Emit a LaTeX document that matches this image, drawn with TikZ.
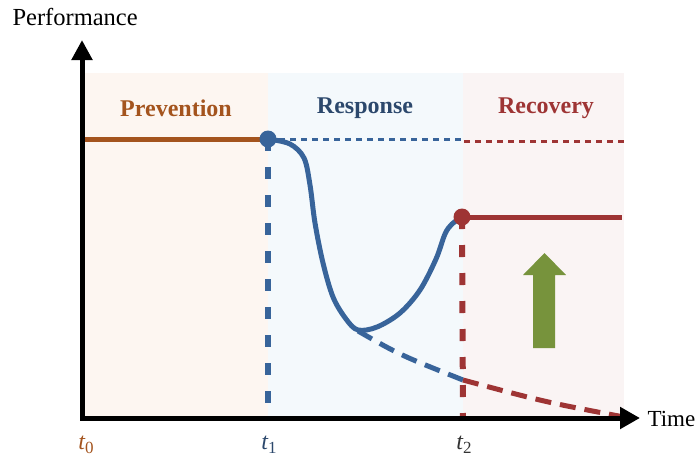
\documentclass[tikz,border=0pt]{standalone}
\usepackage{fontspec}
\setmainfont{Liberation Serif}
\usetikzlibrary{arrows.meta}
\definecolor{prevc}{RGB}{164,84,30}
\definecolor{respc}{RGB}{56,100,154}
\definecolor{resptext}{RGB}{44,72,108}
\definecolor{recc}{RGB}{158,52,52}
\definecolor{greenc}{RGB}{119,147,60}
\definecolor{prevbg}{RGB}{253,246,241}
\definecolor{respbg}{RGB}{244,249,252}
\definecolor{recbg}{RGB}{250,244,244}
\tikzset{
  phase/.style={font=\fontsize{24}{28}\selectfont\bfseries},
  tick/.style={font=\fontsize{24}{28}\selectfont},
  axislabel/.style={font=\fontsize{23}{27}\selectfont},
  vdash/.style={line width=6pt, dash pattern=on 12pt off 16pt},
  dotline/.style={line width=3pt, dash pattern=on 6pt off 5pt},
  declinedash/.style={line width=5pt, dash pattern=on 16pt off 9pt},
  curve/.style={line width=5pt, line cap=round, line join=round},
}
\newcommand{\tlabel}[2]{{\itshape t}\raisebox{-0.35ex}{\fontsize{17}{18}\selectfont #2}}
\begin{document}
\begin{tikzpicture}[x=1pt,y=-1pt]
\useasboundingbox (0,0) rectangle (699,459);
% backgrounds
\fill[prevbg] (82,73) rectangle (268,418);
\fill[respbg] (268,73) rectangle (463,418);
\fill[recbg] (463,73) rectangle (624,418);
% phase labels
\node[phase, text=prevc] (lprev) at (176,108) {Prevention};
\node[phase, text=resptext] (lresp) at (365,108) {Response};
\node[phase, text=recc] (lrec) at (546,108) {Recovery};
% key points
\coordinate (p0) at (82,139);
\coordinate (p1) at (268,139);
\coordinate (p1b) at (268,418);
\coordinate (p1e) at (463,139);
\coordinate (p1r) at (464,141);
\coordinate (p1f) at (624,141);
\coordinate (p2) at (462,217);
\coordinate (p2e) at (622,217);
\coordinate (p2b) at (463,418);
\coordinate (pmin) at (358,331);
\coordinate (pmid) at (463,380);
\coordinate (pend) at (624,417);
% dotted reference lines
\draw[respc, dotline] (p1) -- (p1e);
\draw[recc, dotline] (p1r) -- (p1f);
% vertical dashed lines
\draw[respc, vdash] (p1) -- (p1b);
\draw[recc, vdash] (p2) -- (p2b);
% decline dashed
\draw[respc, declinedash] (pmin) .. controls (400,355) .. (pmid);
\draw[recc, declinedash] (pmid) .. controls (545,402) .. (pend);
% prevention line
\draw[prevc, line width=5pt] (p0) -- (p1);
% recovery line
\draw[recc, line width=5pt] (p2) -- (p2e);
% response curve
\draw[respc, curve] plot[smooth, tension=0.55] coordinates {
  (268,139) (290,144) (304,158) (310,185) (315,223) (323,263) (333,297)
  (346,319) (358,330) (377,327) (400,313) (420,290) (436,259) (445,234) (452,224) (462,217)};
% dots
\fill[respc] (p1) circle (8.5);
\fill[recc] (p2) circle (8.5);
% axes
\draw[line width=5pt, {Triangle[length=20pt,width=20pt]}-{Triangle[length=20pt,width=21pt]}]
  (82,40) -- (82,418) -- (640,418);
\node[axislabel, anchor=west] (ltime) at (644,419) {Time};
\node[anchor=west, font=\fontsize{24.5}{28}\selectfont] (lperf) at (9,17) {Performance};
% tick labels
\node[tick, text=prevc] (t0) at (86,445) {\tlabel{t}{0}};
\node[tick, text=resptext] (t1) at (269,445) {\tlabel{t}{1}};
\node[tick, text=black!80] (t2) at (464,445) {\tlabel{t}{2}};
% green arrow
\fill[greenc] (533,348) -- (555,348) -- (555,275) -- (566,275) -- (544.5,253) -- (523,275) -- (533,275) -- cycle;
\end{tikzpicture}
\end{document}
